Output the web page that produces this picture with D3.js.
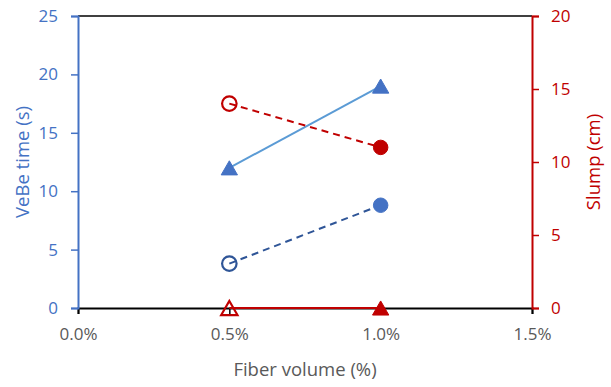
<!DOCTYPE html>
<html lang="en">
  <head>
    <meta charset="UTF-8" />
    <script src="https://d3js.org/d3.v7.min.js"></script>
    <style>
      body { margin: 0; background: #fff; }
      svg text { font-family: "Open Sans", Lato, sans-serif; }
    </style>
  </head>
  <body>
    <div id="chart"></div>
    <script>
      // data
      var fiber = [0.005, 0.01];
      var vebeCircle = [3.8, 8.8];
      var vebeTriangle = [12, 19];
      var slumpCircle = [14, 11];
      var slumpTriangle = [0, 0];
      var xTicks = [0, 0.005, 0.01, 0.015];
      var leftTicks = [0, 5, 10, 15, 20, 25];
      var rightTicks = [0, 5, 10, 15, 20];

      var width = 611, height = 387;
      var margin = { top: 16, right: 79, bottom: 79, left: 78 };
      var blue = "#4472C4", red = "#C00000", grey = "#595959";
      var fs = "17px", titleFs = "18.5px";

      var svg = d3.select("#chart").append("svg")
        .attr("width", width).attr("height", height);

      var x = d3.scaleLinear().domain([0, 0.015]).range([margin.left, width - margin.right]);
      var yL = d3.scaleLinear().domain([0, 25]).range([height - margin.bottom, margin.top]);
      var yR = d3.scaleLinear().domain([0, 20]).range([height - margin.bottom, margin.top]);

      // top border
      svg.append("line")
        .attr("x1", x(0)).attr("x2", x(0.015))
        .attr("y1", yL(25)).attr("y2", yL(25))
        .attr("stroke", "#000").attr("stroke-width", 1.5);

      // bottom axis
      var xAxis = svg.append("g")
        .attr("transform", "translate(0," + yL(0) + ")")
        .call(d3.axisBottom(x).tickValues(xTicks).tickFormat(d3.format(".1%")).tickSize(6).tickPadding(14));
      xAxis.select(".domain").attr("stroke", "#000").attr("stroke-width", 2);
      xAxis.selectAll(".tick line").attr("stroke", "#000").attr("stroke-width", 1.5);
      xAxis.selectAll("text").attr("fill", grey).style("font-size", fs);

      // left axis
      var lAxis = svg.append("g")
        .attr("transform", "translate(" + x(0) + ",0)")
        .call(d3.axisLeft(yL).tickValues(leftTicks).tickSize(7).tickPadding(13));
      lAxis.select(".domain").attr("stroke", blue).attr("stroke-width", 2);
      lAxis.selectAll(".tick line").attr("stroke", blue).attr("stroke-width", 1.5);
      lAxis.selectAll("text").attr("fill", blue).style("font-size", fs);

      // right axis
      var rAxis = svg.append("g")
        .attr("transform", "translate(" + x(0.015) + ",0)")
        .call(d3.axisRight(yR).tickValues(rightTicks).tickSize(7).tickPadding(12));
      rAxis.select(".domain").attr("stroke", red).attr("stroke-width", 2);
      rAxis.selectAll(".tick line").attr("stroke", red).attr("stroke-width", 1.5);
      rAxis.selectAll("text").attr("fill", red).style("font-size", fs);

      // axis titles
      var midY = margin.top + (height - margin.top - margin.bottom) / 2;
      svg.append("text")
        .attr("transform", "translate(23," + midY + ") rotate(-90)")
        .attr("text-anchor", "middle").attr("dy", "0.35em")
        .attr("fill", blue).style("font-size", titleFs)
        .text("VeBe time (s)");
      svg.append("text")
        .attr("transform", "translate(594," + midY + ") rotate(-90)")
        .attr("text-anchor", "middle").attr("dy", "0.35em")
        .attr("fill", red).style("font-size", titleFs)
        .text("Slump (cm)");
      svg.append("text")
        .attr("x", (x(0) + x(0.015)) / 2).attr("y", 370)
        .attr("text-anchor", "middle").attr("dy", "0.35em")
        .attr("fill", grey).style("font-size", titleFs)
        .text("Fiber volume (%)");

      function drawSeries(vals, y, lineColor, dash, openColor, fillColor, shape, firstOpen) {
        var pts = vals.map(function (v, i) { return [x(fiber[i]), y(v)]; });
        svg.append("path")
          .attr("d", d3.line()(pts))
          .attr("fill", "none").attr("stroke", lineColor).attr("stroke-width", 2)
          .attr("stroke-dasharray", dash);
        var size = shape === "circle" ? 165 : 115;
        // triangle: shift so the bounding box (not the centroid) sits on the point
        var shift = shape === "circle" ? 0 : Math.sqrt(size / (Math.sqrt(3) * 3)) / 2;
        var sym = d3.symbol().type(shape === "circle" ? d3.symbolCircle : d3.symbolTriangle).size(size);
        svg.selectAll(null).data(pts).enter().append("path")
          .attr("transform", function (d) { return "translate(" + d[0] + "," + (d[1] + shift) + ")"; })
          .attr("d", sym)
          .attr("fill", function (d, i) { return i === 0 && firstOpen ? "none" : fillColor; })
          .attr("stroke", function (d, i) { return i === 0 && firstOpen ? openColor : fillColor; })
          .attr("stroke-width", function (d, i) { return i === 0 && firstOpen ? 2.2 : 1; });
      }

      drawSeries(slumpTriangle, yR, red, null, red, red, "triangle", true);
      drawSeries(vebeTriangle, yL, "#5B9BD5", null, blue, blue, "triangle", false);
      drawSeries(vebeCircle, yL, "#2F5597", "7,5", "#2F5597", blue, "circle", true);
      drawSeries(slumpCircle, yR, red, "7,5", red, red, "circle", true);
    </script>
  </body>
</html>
